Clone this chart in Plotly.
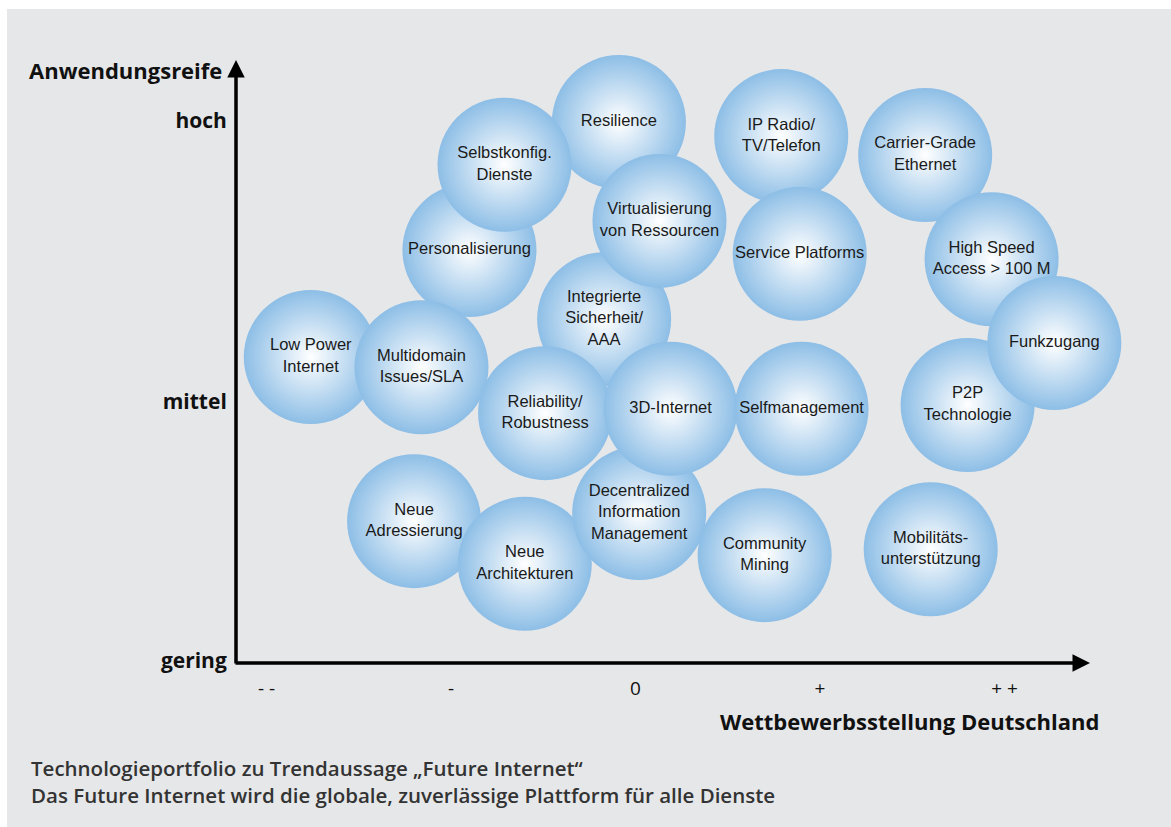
import plotly.graph_objects as go

# Technologies, listed in drawing order (later entries sit on top of earlier ones)
technologien = [
    "Resilience",
    "Personalisierung",
    "Selbstkonfig.<br>Dienste",
    "Integrierte<br>Sicherheit/<br>AAA",
    "Virtualisierung<br>von Ressourcen",
    "IP Radio/<br>TV/Telefon",
    "Service Platforms",
    "Carrier-Grade<br>Ethernet",
    "High Speed<br>Access > 100 M",
    "P2P<br>Technologie",
    "Funkzugang",
    "Low Power<br>Internet",
    "Reliability/<br>Robustness",
    "Multidomain<br>Issues/SLA",
    "Neue<br>Adressierung",
    "Neue<br>Architekturen",
    "Community<br>Mining",
    "Decentralized<br>Information<br>Management",
    "3D-Internet",
    "Selfmanagement",
    "Mobilitäts-<br>unterstützung",
]

# Competitive position in Germany (-2 = "- -" ... +2 = "+ +")
wettbewerbsstellung = [
    -0.09, -0.90, -0.71, -0.17, 0.13, 0.79, 0.89, 1.57, 1.93, 1.80, 2.27,
    -1.76, -0.49, -1.16, -1.20, -0.60, 0.70, 0.02, 0.19, 0.90, 1.60,
]

# Application maturity (0 = gering, 48 = mittel, 100 = hoch)
anwendungsreife = [
    99.8, 76.1, 91.9, 63.3, 81.5, 97.2, 75.4, 93.7, 74.4, 47.4, 58.9,
    56.3, 45.9, 54.4, 25.9, 18.0, 19.6, 27.4, 46.7, 46.7, 20.7,
]

x_tickvals = [-2, -1, 0, 1, 2]
x_ticktext = ["- -", "-", "0", "+", "+ +"]
y_tickvals = [0, 48, 100]
y_ticktext = ["gering", "mittel", "hoch"]

W, H = 1171, 827
M_L, M_R, M_T, M_B = 236, 40, 40, 164
PLOT_W = W - M_L - M_R
PLOT_H = H - M_T - M_B


def px_x(p):
    """Horizontal pixel position -> paper coordinate."""
    return (p - M_L) / PLOT_W


def px_y(p):
    """Vertical pixel position -> paper coordinate."""
    return (H - M_B - p) / PLOT_H


fig = go.Figure()

# Bubbles: white core fading to light blue at the rim
fig.add_trace(
    go.Scatter(
        x=wettbewerbsstellung,
        y=anwendungsreife,
        text=technologien,
        mode="markers+text",
        textposition="middle center",
        textfont=dict(family="Liberation Sans, Arial, sans-serif", size=16.5, color="#1a1a1a"),
        marker=dict(
            size=134,
            color="#8dbee6",
            gradient=dict(type="radial", color="#ffffff"),
            line=dict(width=0),
            opacity=1,
        ),
        cliponaxis=False,
        hoverinfo="text",
        showlegend=False,
    )
)

axis_color = "#000000"
label_font = dict(family="Open Sans, sans-serif", size=22, color="#111111", weight="bold")
annotations = [
    # vertical axis with arrow head
    dict(
        xref="paper", yref="paper", x=0, y=px_y(60),
        ax=0, ay=605, axref="pixel", ayref="pixel",
        text="", showarrow=True, arrowhead=2, arrowsize=1,
        arrowwidth=3.5, arrowcolor=axis_color, standoff=0,
    ),
    # horizontal axis with arrow head
    dict(
        xref="paper", yref="paper", x=px_x(1090), y=0,
        ax=-(1090 - 234), ay=0, axref="pixel", ayref="pixel",
        text="", showarrow=True, arrowhead=2, arrowsize=1,
        arrowwidth=3.5, arrowcolor=axis_color, standoff=0,
    ),
    dict(
        xref="paper", yref="paper", x=px_x(27), y=px_y(70),
        xanchor="left", yanchor="middle", showarrow=False,
        text="Anwendungsreife", font=label_font,
    ),
    dict(
        xref="paper", yref="paper", x=px_x(1101), y=px_y(721),
        xanchor="right", yanchor="middle", showarrow=False,
        text="Wettbewerbsstellung Deutschland", font=label_font,
    ),
    dict(
        xref="paper", yref="paper", x=px_x(29), y=px_y(781),
        xanchor="left", yanchor="middle", align="left", showarrow=False,
        text="Technologieportfolio zu Trendaussage „Future Internet“<br>"
             "Das Future Internet wird die globale, zuverlässige Plattform für alle Dienste",
        font=dict(family="Open Sans, sans-serif", size=20.5, color="#333333", weight=600),
    ),
]

fig.update_layout(
    width=W,
    height=H,
    autosize=False,
    margin=dict(l=M_L, r=M_R, t=M_T, b=M_B, pad=0),
    paper_bgcolor="#ffffff",
    plot_bgcolor="rgba(0,0,0,0)",
    shapes=[
        dict(
            type="rect", xref="paper", yref="paper",
            x0=px_x(7), x1=px_x(W + 2), y0=px_y(H + 2), y1=px_y(9),
            fillcolor="#e6e7e9", line=dict(width=0), layer="below",
        )
    ],
    annotations=annotations,
    xaxis=dict(
        range=[(M_L - 635.5) / 184.5, (W - M_R - 635.5) / 184.5],
        tickvals=x_tickvals,
        ticktext=x_ticktext,
        ticks="outside",
        ticklen=8,
        tickcolor="rgba(0,0,0,0)",
        tickfont=dict(family="Open Sans, sans-serif", size=19, color="#111111"),
        showgrid=False,
        zeroline=False,
        showline=False,
        fixedrange=True,
    ),
    yaxis=dict(
        range=[(661 - (H - M_B)) / 5.4, (661 - M_T) / 5.4],
        tickvals=y_tickvals,
        ticktext=y_ticktext,
        ticks="outside",
        ticklen=4,
        tickcolor="rgba(0,0,0,0)",
        tickfont=dict(family="Open Sans, sans-serif", size=21, color="#111111", weight="bold"),
        showgrid=False,
        zeroline=False,
        showline=False,
        fixedrange=True,
    ),
)

fig.write_html("out.html")
